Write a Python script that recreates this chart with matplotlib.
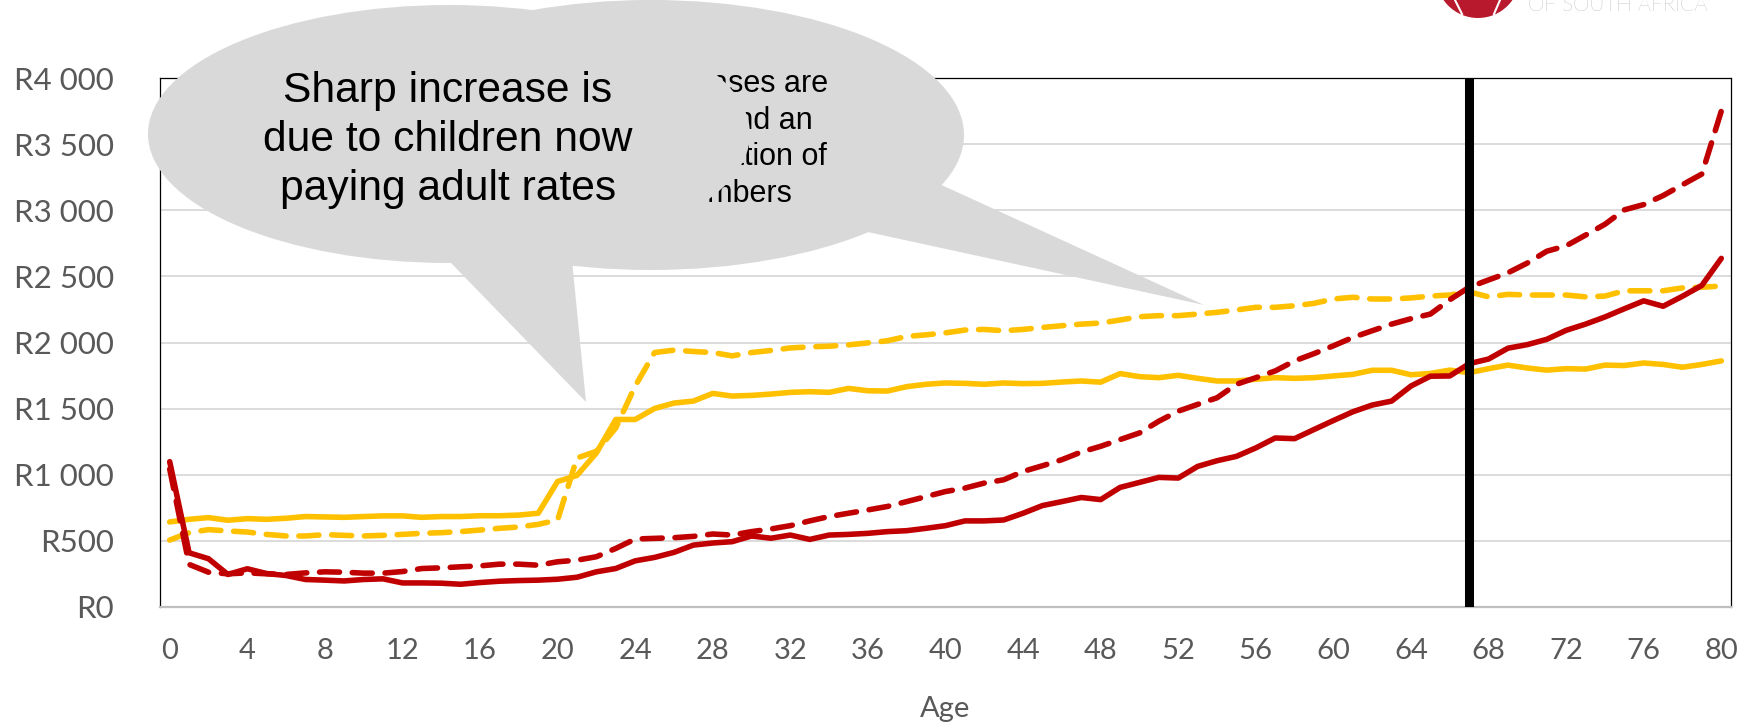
import matplotlib
matplotlib.use("Agg")
import matplotlib.pyplot as plt
from matplotlib.patches import Ellipse, Polygon
from matplotlib.ticker import FuncFormatter, MultipleLocator

# monthly contribution by age (rand)
ages = list(range(81))
gold_solid = [643, 663, 676, 656, 668, 663, 671, 684, 681, 678, 684, 689, 689, 678, 684,
              684, 690, 690, 695, 709, 949, 995, 1165, 1418, 1418, 1501, 1542, 1557, 1615, 1595,
              1600, 1610, 1623, 1628, 1623, 1653, 1635, 1633, 1666, 1684, 1694, 1691, 1684, 1694, 1689,
              1691, 1701, 1709, 1700, 1765, 1742, 1734, 1752, 1729, 1709, 1709, 1722, 1734, 1729, 1734,
              1747, 1759, 1790, 1790, 1756, 1766, 1791, 1772, 1802, 1829, 1807, 1791, 1802, 1799, 1829,
              1826, 1845, 1834, 1813, 1834, 1861]
gold_dashed = [506, 562, 585, 575, 567, 549, 537, 537, 547, 542, 537, 542, 549, 557, 562,
               570, 582, 595, 605, 625, 658, 1127, 1177, 1354, 1671, 1924, 1942, 1932, 1924, 1899,
               1924, 1940, 1959, 1967, 1972, 1982, 1997, 2013, 2046, 2058, 2073, 2094, 2099, 2089, 2099,
               2114, 2127, 2139, 2147, 2170, 2195, 2203, 2203, 2215, 2228, 2246, 2266, 2266, 2278, 2296,
               2329, 2342, 2329, 2329, 2337, 2351, 2359, 2383, 2345, 2364, 2359, 2359, 2359, 2345, 2351,
               2391, 2391, 2391, 2413, 2418, 2427]
red_solid = [1099, 410, 365, 246, 289, 253, 238, 208, 203, 197, 208, 213, 182, 182, 180,
             172, 185, 195, 200, 203, 210, 225, 266, 291, 349, 375, 413, 468, 484, 494,
             537, 520, 544, 511, 544, 549, 557, 570, 577, 595, 615, 651, 651, 658, 709,
             767, 797, 828, 812, 904, 942, 980, 975, 1063, 1106, 1139, 1203, 1278, 1273, 1342,
             1410, 1476, 1527, 1557, 1671, 1745, 1747, 1840, 1875, 1957, 1984, 2024, 2092, 2139, 2193,
             2255, 2315, 2274, 2350, 2432, 2636]
red_dashed = [1043, 322, 263, 251, 258, 251, 246, 258, 266, 263, 256, 256, 268, 291, 296,
              304, 311, 324, 324, 316, 342, 354, 380, 443, 514, 519, 524, 534, 552, 544,
              570, 590, 615, 651, 684, 709, 734, 760, 797, 835, 873, 899, 937, 962, 1025,
              1068, 1114, 1172, 1215, 1266, 1316, 1405, 1481, 1532, 1582, 1684, 1734, 1785, 1861, 1916,
              1975, 2038, 2089, 2139, 2180, 2215, 2323, 2418, 2473, 2527, 2601, 2690, 2731, 2812, 2894,
              3003, 3043, 3111, 3193, 3274, 3750]
retirement_age = 67

callout_main = "Sharp increase is\ndue to children now\npaying adult rates"
callout_back = "These increases are\ndue to age and an\nageing population of\nolder members"

GOLD = "#FFC000"
RED = "#C00000"
GREY_TXT = "#595959"

W, H = 1753, 724
fig = plt.figure(figsize=(W / 100, H / 100), dpi=100)
ax = fig.add_axes([160 / W, 1 - 607 / H, (1731 - 160) / W, (607 - 78) / H])

lw = 4.0
dash = (3.6, 2.3)
ax.plot(ages, gold_solid, color=GOLD, lw=lw, solid_joinstyle="round", solid_capstyle="round")
ax.plot(ages, gold_dashed, color=GOLD, lw=lw, dashes=dash, dash_capstyle="round", dash_joinstyle="round")
ax.plot(ages, red_solid, color=RED, lw=lw, solid_joinstyle="round", solid_capstyle="round")
ax.plot(ages, red_dashed, color=RED, lw=lw, dashes=dash, dash_capstyle="round", dash_joinstyle="round")
ax.axvline(retirement_age, color="black", lw=6.5, zorder=5)

ax.set_xlim(-0.5, 80.5)
ax.set_ylim(0, 4000)
ax.xaxis.set_major_locator(MultipleLocator(4))
ax.yaxis.set_major_locator(MultipleLocator(500))
ax.yaxis.set_major_formatter(FuncFormatter(lambda v, p: "R" + f"{v:,.0f}".replace(",", " ")))
ax.yaxis.grid(True, color="#d9d9d9", lw=1.3)
ax.set_axisbelow(True)
ax.tick_params(axis="both", length=0, labelcolor=GREY_TXT)
ax.tick_params(axis="y", pad=33, labelsize=22.5)
ax.tick_params(axis="x", pad=22, labelsize=21)
for lab in ax.get_xticklabels() + ax.get_yticklabels():
    lab.set_family("Lato")
ax.set_xlabel("Age", fontsize=21, color=GREY_TXT, family="Lato", labelpad=23)

for s in ["left", "top", "right"]:
    ax.spines[s].set_color("black")
    ax.spines[s].set_linewidth(0.9)
ax.spines["bottom"].set_color("#bfbfbf")
ax.spines["bottom"].set_linewidth(1.6)


# callouts are placed in figure pixels, measured from the top-left corner
def px(x, y):
    return (x / W, 1 - y / H)


def bubble(cx, cy, w, h, tail, z):
    fig.add_artist(Ellipse(px(cx, cy), w / W, h / H, transform=fig.transFigure,
                           facecolor="#d9d9d9", edgecolor="none", zorder=z))
    fig.add_artist(Polygon([px(x, y) for x, y in tail], closed=True, transform=fig.transFigure,
                           facecolor="#d9d9d9", edgecolor="none", zorder=z))


bubble(651, 135, 626, 270, [(900, 166), (840, 226), (1204, 305)], 5)
fig.text(690 / W, 1 - 139 / H, callout_back, ha="center", va="center", fontsize=22,
         family="Liberation Sans", color="black", linespacing=1.3, zorder=6)
bubble(449, 134, 602, 258, [(419, 230), (569, 230), (586, 402)], 7)
fig.text(448 / W, 1 - 140 / H, callout_main, ha="center", va="center", fontsize=30.7,
         family="Liberation Sans", color="black", linespacing=1.3, zorder=8)

# corner logo
fig.add_artist(Ellipse(px(1478, -24), 84 / W, 84 / H, transform=fig.transFigure,
                       facecolor="#b8192c", edgecolor="none", zorder=9))
fig.add_artist(plt.Line2D([1455 / W, 1462 / W], [1 - 0 / H, 1 - 14 / H], color="white", lw=1.5, zorder=10))
fig.add_artist(plt.Line2D([1500 / W, 1494 / W], [1 - 0 / H, 1 - 14 / H], color="white", lw=1.5, zorder=10))
fig.text(1528 / W, 1 - 11 / H, "OF SOUTH AFRICA", ha="left", va="baseline", fontsize=15,
         family="Lato", fontweight="light", color="#8c8c8c", zorder=10)

fig.savefig("out.png", dpi=100)
